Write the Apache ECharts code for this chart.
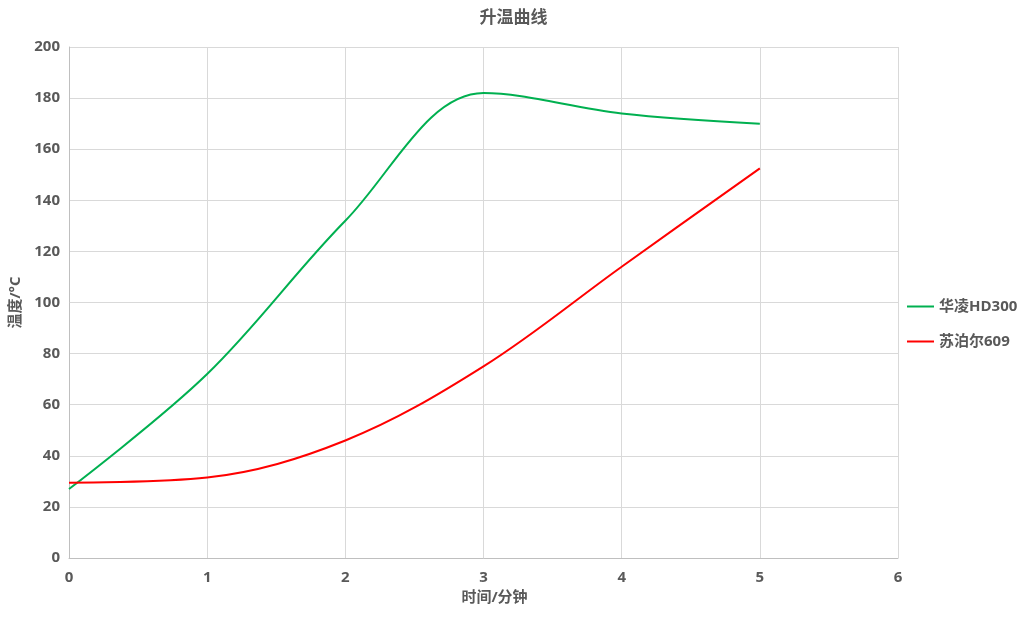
<!DOCTYPE html>
<html>
<head>
<meta charset="utf-8">
<script src="https://cdn.jsdelivr.net/npm/echarts@6/dist/echarts.min.js"></script>
<style>
html,body{margin:0;padding:0;background:#fff}
#chart{width:1027px;height:619px}
</style>
</head>
<body>
<div id="chart"></div>
<script>
// 时间/分钟
var times = [0, 1, 2, 3, 4, 5]
// 华凌HD300
var hualing = [27, 72, 132, 182, 174, 170]
// 苏泊尔609
var supor = [29.5, 31.5, 46, 75, 114, 152.5]

var seriesNames = ['华凌HD300', '苏泊尔609']

function pairs (xs, ys) {
  return xs.map(function (x, i) { return [x, ys[i]] })
}

var font = '"Open Sans", "Noto Sans CJK SC", sans-serif'
var textColor = '#595959'

var chart = echarts.init(document.getElementById('chart'))
chart.setOption({
  backgroundColor: '#fff',
  animation: false,
  textStyle: { fontFamily: font },
  title: {
    text: '升温曲线',
    left: 'center',
    top: 5,
    textStyle: { fontSize: 17, fontWeight: 'bold', color: textColor, fontFamily: font }
  },
  legend: {
    orient: 'vertical',
    left: 902,
    top: 294,
    itemWidth: 27,
    itemHeight: 2,
    itemGap: 20,
    icon: 'rect',
    data: seriesNames,
    textStyle: { fontSize: 15, fontWeight: 'bold', color: textColor, fontFamily: font }
  },
  grid: { left: 69, right: 129, top: 47, bottom: 61 },
  xAxis: {
    type: 'value',
    min: 0,
    max: 6,
    interval: 1,
    name: '时间/分钟',
    nameLocation: 'middle',
    nameGap: 28,
    nameTextStyle: { fontSize: 15, fontWeight: 'bold', color: textColor, padding: [0, 0, 0, 22] },
    axisLine: { lineStyle: { color: '#bfbfbf' } },
    axisTick: { show: false },
    axisLabel: { fontSize: 15, fontWeight: 'bold', color: textColor, margin: 12 },
    splitLine: { show: true, lineStyle: { color: '#d9d9d9' } }
  },
  yAxis: {
    type: 'value',
    min: 0,
    max: 200,
    interval: 20,
    name: '温度/°C',
    nameLocation: 'middle',
    nameGap: 45,
    nameTextStyle: { fontSize: 15, fontWeight: 'bold', color: textColor },
    axisLine: { show: true, lineStyle: { color: '#bfbfbf' } },
    axisTick: { show: false },
    axisLabel: { fontSize: 15, fontWeight: 'bold', color: textColor, margin: 9 },
    splitLine: { show: true, lineStyle: { color: '#d9d9d9' } }
  },
  series: [{
    name: seriesNames[0],
    type: 'line',
    smooth: 0.35,
    showSymbol: false,
    symbol: 'none',
    data: pairs(times, hualing),
    itemStyle: { color: '#00b050' },
    lineStyle: { color: '#00b050', width: 2 }
  }, {
    name: seriesNames[1],
    type: 'line',
    smooth: 0.35,
    showSymbol: false,
    symbol: 'none',
    data: pairs(times, supor),
    itemStyle: { color: '#ff0000' },
    lineStyle: { color: '#ff0000', width: 2 }
  }]
})
</script>
</body>
</html>
